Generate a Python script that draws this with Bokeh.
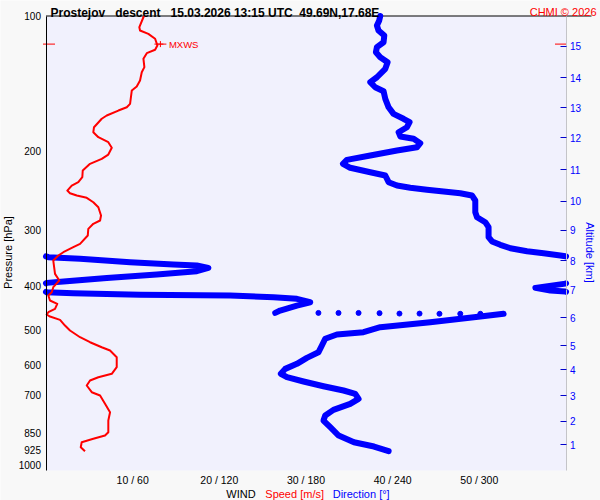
import numpy as np
from math import pi, log10
from bokeh.plotting import figure
from bokeh.models import Range1d, LogAxis, FixedTicker, Label, BoxAnnotation
from bokeh.embed import file_html
from bokeh.resources import INLINE

FONT = "Liberation Sans"

# ---------------- data ----------------
title_text = "Prostejov   descent   15.03.2026 13:15 UTC  49.69N,17.68E"
copyright_text = "CHMI \u00a9 2026"

pressure_ticks = [100, 200, 300, 400, 500, 600, 700, 850, 925, 1000]
speed_ticks = [10, 20, 30, 40, 50]
dir_ticks = [60, 120, 180, 240, 300]
alt_km = [1, 2, 3, 4, 5, 6, 7, 8, 9, 10, 11, 12, 13, 14, 15]
alt_p = [900.4, 798.9, 700.3, 613.8, 541.9, 470.0, 407.2, 350.4, 300.4,
         258.9, 220.0, 186.7, 160.1, 137.3, 116.9]

# wind speed [m/s] vs pressure [hPa]
speed_p = [100, 105.9, 107.7, 109.6, 112.4, 116.3, 118.9, 121.0, 124.5, 130.0,
           133.4, 139.2, 143.6, 146.5, 156.9, 159.7, 162.4, 166.6, 169.4, 176.9,
           181.5, 186.2, 191.0, 196.6, 203.5, 208.0, 213.4, 220.9, 228.6, 234.5,
           238.6, 244.8, 248.2, 251.1, 254.1, 259.9, 266.6, 278.2, 285.4, 290.3,
           297.9, 308.3, 321.7, 327.3, 335.8, 341.6, 350.4, 375.2, 388.3, 401.8,
           412.3, 419.3, 430.2, 437.6, 448.9, 456.8, 462.2, 467.0, 475.0, 489.1,
           501.8, 519.3, 532.8, 546.7, 556.0, 575.4, 605.6, 626.5, 637.5, 648.4,
           665.2, 688.5, 700.2, 730.7, 762.9, 796.1, 845.2, 859.7, 874.4, 889.8,
           912.9, 931.8]
speed = [11.3, 10.77, 10.85, 11.81, 12.59, 12.85, 12.59, 11.63, 11.24, 11.35,
         11.05, 10.85, 10.47, 9.90, 9.70, 9.32, 8.35, 7.01, 6.43, 5.54,
         5.46, 6.04, 7.19, 7.59, 7.19, 6.43, 5.08, 4.24, 4.19, 3.73,
         2.97, 2.46, 2.77, 3.55, 4.70, 5.46, 6.04, 6.35, 6.24, 5.46,
         4.88, 4.82, 3.93, 3.15, 2.00, 1.42, 0.84, 1.04, 1.54, 0.84,
         0.66, 0.27, 0.46, 1.30, 1.04, 0.27, 0.08, 0.46, 1.62, 2.19,
         2.77, 3.93, 5.08, 6.43, 7.39, 8.16, 8.16, 7.59, 6.04, 5.08,
         4.70, 5.28, 6.24, 6.81, 7.39, 7.19, 7.19, 6.81, 5.46, 4.12,
         4.01, 4.50]

# wind direction [deg] vs pressure, upper part (above the data gap)
dir_p_a = [100, 102.3, 105.0, 107.7, 110.5, 114.4, 117.3, 120.4, 123.5, 126.7,
           131.1, 136.9, 140.4, 144.1, 147.1, 152.9, 159.7, 165.2, 169.4, 172.4,
           176.9, 181.5, 185.5, 187.7, 192.0, 196.0, 199.3, 204.5, 209.1, 213.4,
           217.8, 222.8, 226.6, 234.5, 238.6, 241.3, 243.8, 246.0, 248.2, 251.1,
           257.6, 273.5, 280.6, 287.9, 295.4, 310.9, 317.8, 323.3, 329.0, 334.1,
           337.5, 341.5, 342.7, 344.5, 347.3, 353.4, 357.6, 359.5, 363.8, 370.2,
           376.6, 383.1, 389.8, 393.0, 394.5, 403.2, 408.8, 410.9, 412.3, 414.5,
           417.8, 419.3, 423.0, 426.5, 434.0, 441.5, 452.9, 458.3]
dir_a = [231.4, 230.7, 229.1, 230.2, 234.2, 233.7, 229.1, 228.4, 231.4, 236.5,
         234.9, 229.1, 224.5, 227.9, 233.7, 234.9, 237.2, 240.6, 247.5, 251.7,
         249.9, 244.1, 245.3, 254.5, 259.1, 256.8, 243.0, 224.5, 208.3, 205.6,
         210.6, 224.5, 234.9, 237.2, 243.0, 252.2, 263.7, 275.3, 286.8, 294.9,
         297.2, 297.2, 298.4, 304.1, 306.4, 306.4, 308.8, 314.5, 321.5, 333.0,
         344.5, 356.1, 359.6, 1.6, 23.6, 58.2, 88.2, 104.4, 112.4, 104.4,
         76.7, 42.1, 14.3, 0.5, 359.6, 338.8, 349.2, 359.6, 0.5, 18.9,
         65.1, 127.5, 157.5, 173.7, 182.9, 173.7, 162.1, 158.7]

# sparse points inside the gap
dot_p = [458.5, 458.5, 458.5, 459.0, 460.0, 460.0, 460.5, 460.5, 460.5]
dot_dir = [188.6, 202.5, 216.4, 230.9, 244.7, 258.6, 272.4, 286.8, 300.7]

# lower part
dir_p_b = [460.5, 467.0, 480.8, 493.3, 506.1, 512.2, 523.5, 541.9, 561.0, 577.3,
           595.3, 610.8, 626.5, 637.5, 651.6, 667.6, 682.5, 694.1, 712.2, 730.7,
           753.6, 776.1, 796.2, 823.9, 859.7, 889.8, 909.7, 931.8]
dir_b = [316.8, 300.7, 266.0, 231.4, 219.8, 201.4, 193.3, 191.0, 188.6, 180.6,
         173.7, 165.6, 162.6, 166.8, 178.3, 192.1, 206.0, 214.1, 216.4, 210.6,
         199.0, 193.3, 192.1, 196.8, 202.6, 213.2, 227.1, 237.2]

mxws_speed = 13.2
mxws_p = 115.5

# ---------------- layout constants (pixels) ----------------
W, H = 600, 500
FL, FR, FT, FB = 45.5, 565.5, 15.5, 470.0      # plotting box
SPEED_MIN, SPEED_MAX = 0, 60
DIR_MAX = 360
P_TOP, P_BOTTOM = 100, 1028.6

u = (SPEED_MAX - SPEED_MIN) / (FR - FL)           # m/s per pixel
x_start = SPEED_MIN - FL * u
x_end = SPEED_MAX + (W - FR) * u
kdir = DIR_MAX / SPEED_MAX
dec_px = (FB - FT) / log10(P_BOTTOM / P_TOP)
y_top = P_TOP * 10 ** (-FT / dec_px)
y_bot = P_TOP * 10 ** ((H - FT) / dec_px)

LAV = "#f1f1fd"
BG = "#f8f8f8"
BLUE = "#0000ff"
RED = "#ff0000"

p = figure(width=W, height=H, x_range=Range1d(x_start, x_end),
           y_range=Range1d(y_bot, y_top), y_axis_type="log",
           output_backend="svg", toolbar_location=None, min_border=0)
p.extra_x_ranges = {"dir": Range1d(x_start * kdir, x_end * kdir)}
p.background_fill_color = BG
p.border_fill_color = BG
p.outline_line_color = None
p.xgrid.visible = False
p.ygrid.visible = False

# plotting box background
p.add_layout(BoxAnnotation(left=SPEED_MIN, right=SPEED_MAX, bottom=P_BOTTOM, top=P_TOP,
                           fill_color=LAV, fill_alpha=1, line_color=None, level="underlay"))

# grid lines
nv = len(speed_ticks)
p.segment(x0=speed_ticks, x1=speed_ticks, y0=[P_TOP] * nv, y1=[P_BOTTOM] * nv,
          line_color="#d9d9df", line_width=1, level="underlay")
hticks = pressure_ticks[1:]
nh = len(hticks)
p.segment(x0=[SPEED_MIN] * nh, x1=[SPEED_MAX] * nh, y0=hticks, y1=hticks,
          line_color="#a9a9a9", line_width=1, level="underlay")

# top border line (reaches past the right axis)
p.segment(x0=[SPEED_MIN], x1=[SPEED_MAX + (591 - FR) * u], y0=[P_TOP], y1=[P_TOP],
          line_color="black", line_width=1)

# left (pressure) axis
ya = p.yaxis[0]
ya.fixed_location = SPEED_MIN
ya.bounds = (P_TOP, P_BOTTOM)
ya.ticker = FixedTicker(ticks=pressure_ticks)
ya.major_label_overrides = {t: str(t) for t in pressure_ticks}
ya.major_tick_line_color = None
ya.major_tick_in = 0
ya.major_tick_out = 0
ya.minor_tick_line_color = None
ya.minor_tick_in = 0
ya.minor_tick_out = 0
ya.axis_line_color = "black"
ya.axis_line_width = 1
ya.major_label_standoff = 5
ya.major_label_text_font = FONT
ya.major_label_text_font_size = "10px"
ya.major_label_text_color = "black"

# bottom axis (labels only)
xa = p.xaxis[0]
xa.fixed_location = P_BOTTOM
xa.bounds = (SPEED_MIN, SPEED_MAX)
xa.ticker = FixedTicker(ticks=speed_ticks)
xa.major_label_overrides = {s: f"{s} / {d}" for s, d in zip(speed_ticks, dir_ticks)}
xa.axis_line_color = None
xa.major_tick_line_color = None
xa.major_tick_in = 0
xa.major_tick_out = 0
xa.minor_tick_line_color = None
xa.minor_tick_in = 0
xa.minor_tick_out = 0
xa.major_label_standoff = 3
xa.major_label_text_font = FONT
xa.major_label_text_font_size = "10.5px"
xa.major_label_text_color = "black"

# right (altitude) axis
ra = LogAxis(fixed_location=SPEED_MAX, bounds=(P_TOP, P_BOTTOM),
             ticker=FixedTicker(ticks=alt_p),
             major_label_overrides={pp: str(k) for pp, k in zip(alt_p, alt_km)},
             axis_line_color="#c4c4c8", axis_line_width=1,
             major_tick_in=6, major_tick_out=0, major_tick_line_color="#0000cc",
             minor_tick_line_color=None, minor_tick_in=0, minor_tick_out=0,
             major_label_standoff=4,
             major_label_text_font=FONT, major_label_text_font_size="10px",
             major_label_text_color=BLUE)
p.add_layout(ra, "right")


# ---------------- wind direction (wrapped at 0/360) ----------------
def wrap_segments(d, pp):
    segs = []
    xs, ys = [d[0]], [pp[0]]
    for i in range(1, len(d)):
        a, b = d[i - 1], d[i]
        if abs(b - a) > DIR_MAX / 2:
            if b < a:
                b2, e_out, e_in = b + DIR_MAX, DIR_MAX, 0
            else:
                b2, e_out, e_in = b - DIR_MAX, 0, DIR_MAX
            t = (e_out - a) / (b2 - a)
            lp = log10(pp[i - 1]) + t * (log10(pp[i]) - log10(pp[i - 1]))
            pc = 10 ** lp
            xs.append(e_out)
            ys.append(pc)
            segs.append((xs, ys))
            xs, ys = [e_in, b], [pc, pp[i]]
        else:
            xs.append(b)
            ys.append(pp[i])
    segs.append((xs, ys))
    return segs


segs = wrap_segments(dir_a, dir_p_a) + wrap_segments(dir_b, dir_p_b)
p.multi_line(xs=[s[0] for s in segs], ys=[s[1] for s in segs], x_range_name="dir",
             line_color=BLUE, line_width=6, line_cap="round", line_join="round")
p.scatter(dot_dir, dot_p, x_range_name="dir", marker="circle", size=5,
          fill_color=BLUE, line_color=BLUE)

# ---------------- wind speed ----------------
p.line(speed, speed_p, line_color=RED, line_width=2, line_join="round")

# MXWS marker
p.scatter([mxws_speed], [mxws_p], marker="dash", size=12, line_color=RED, line_width=1)
p.scatter([mxws_speed], [mxws_p], marker="cross", size=6, line_color=RED, line_width=1)
p.add_layout(Label(x=mxws_speed, y=mxws_p, text="MXWS", x_offset=8.5,
                   text_baseline="middle", text_align="left", text_font=FONT,
                   text_font_size="9.5px", text_color=RED))
p.segment(x0=[SPEED_MIN - 3 * u], x1=[SPEED_MIN + 9 * u], y0=[mxws_p], y1=[mxws_p],
          line_color=RED, line_width=1)
p.segment(x0=[SPEED_MAX - 11 * u], x1=[SPEED_MAX], y0=[mxws_p], y1=[mxws_p],
          line_color=RED, line_width=1)


# ---------------- texts ----------------
def screen_label(text, px, py, **kw):
    opts = dict(text_font=FONT, text_font_size="11px", text_color="black",
                text_align="left", text_baseline="alphabetic")
    opts.update(kw)
    return Label(x=px, y=H - py, x_units="screen", y_units="screen", text=text, **opts)


p.add_layout(screen_label(title_text.replace(" ", "\u00a0"), 50, 12.5,
                          text_font_size="12px", text_font_style="bold"))
p.add_layout(screen_label(copyright_text, 596, 11, text_align="right", text_color=RED))
p.add_layout(screen_label("Pressure [hPa]", 7.5, 252, angle=pi / 2,
                          text_align="center", text_baseline="middle"))
p.add_layout(screen_label("Altitude [km]", 589, 252, angle=-pi / 2,
                          text_align="center", text_baseline="middle", text_color=BLUE))
p.add_layout(screen_label("WIND", 225.8, 493.5))
p.add_layout(screen_label("Speed [m/s]", 264.8, 493.5, text_color=RED))
p.add_layout(screen_label("Direction [\u00b0]", 332.2, 493.5, text_color=BLUE))

open("out.html", "w").write(file_html(p, INLINE))
